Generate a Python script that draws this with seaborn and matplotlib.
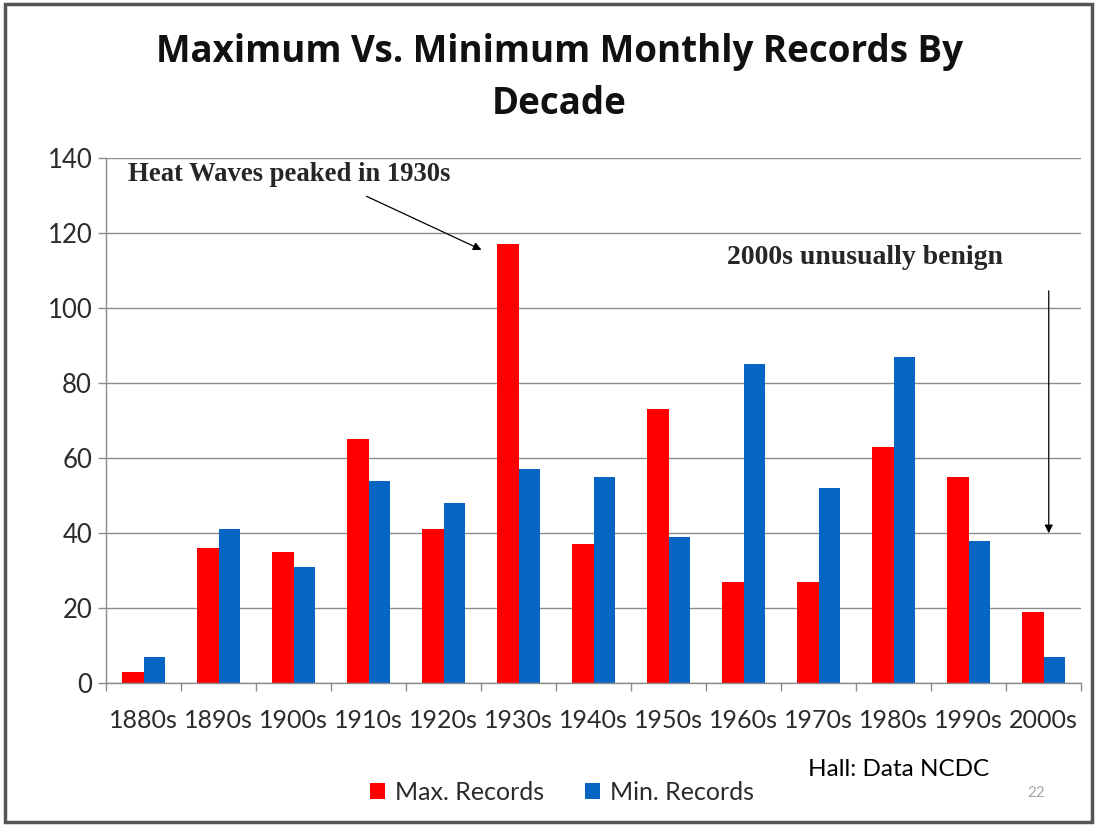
import pandas as pd
import matplotlib
matplotlib.use("Agg")
import matplotlib.pyplot as plt
import seaborn as sns
from matplotlib.patches import Rectangle

# values
decades = ["1880s", "1890s", "1900s", "1910s", "1920s", "1930s", "1940s",
           "1950s", "1960s", "1970s", "1980s", "1990s", "2000s"]
max_records = [3, 36, 35, 65, 41, 117, 37, 73, 27, 27, 63, 55, 19]
min_records = [7, 41, 31, 54, 48, 57, 55, 39, 85, 52, 87, 38, 7]
series_names = ["Max. Records", "Min. Records"]
y_ticks = [0, 20, 40, 60, 80, 100, 120, 140]

df = pd.DataFrame({
    "decade": decades * 2,
    "records": max_records + min_records,
    "series": [series_names[0]] * len(decades) + [series_names[1]] * len(decades),
})

sns.set_theme(style="white")
plt.rcParams["font.family"] = ["Lato", "DejaVu Sans"]

fig = plt.figure(figsize=(10.96, 8.26), dpi=100)
ax = fig.add_axes([106 / 1096, 143 / 826, 975 / 1096, 525 / 826])

sns.barplot(data=df, x="decade", y="records", hue="series",
            palette=["#FF0000", "#0766C4"], width=0.57, saturation=1,
            linewidth=0, ax=ax, legend=True)

# axes styling, excel-ish
ax.set_xlim(-0.5, len(decades) - 0.5)
ax.set_ylim(0, 140)
ax.set_yticks(y_ticks)
ax.set_xlabel("")
ax.set_ylabel("")
ax.yaxis.grid(True, color="#8c8c8c", lw=1)
ax.set_axisbelow(True)
for s in ["top", "right"]:
    ax.spines[s].set_visible(False)
for s in ["left", "bottom"]:
    ax.spines[s].set_color("#8c8c8c")
    ax.spines[s].set_linewidth(1)

ax.set_xticks([i - 0.5 for i in range(len(decades) + 1)], minor=True)
ax.tick_params(axis="x", which="minor", length=6, color="#8c8c8c", width=1, bottom=True)
ax.tick_params(axis="x", which="major", length=0, pad=19, labelsize=18, labelcolor="#2b2b2b")
ax.tick_params(axis="y", which="major", length=6, color="#8c8c8c", width=1, left=True,
               pad=4, labelsize=18.5, labelcolor="#2b2b2b")

# legend moved to figure bottom
handles, labels = ax.get_legend_handles_labels()
ax.get_legend().remove()
fig.legend(handles, labels, loc="center", bbox_to_anchor=(562 / 1096, 1 - 792 / 826),
           ncol=2, frameon=False, fontsize=18, handlelength=0.6, handleheight=0.6,
           handletextpad=0.4, columnspacing=1.6, labelcolor="#2b2b2b")

# title
fig.text(559 / 1096, 1 - 78 / 826, "Maximum Vs. Minimum Monthly Records By\nDecade",
         ha="center", va="center", fontsize=26.5, fontweight="bold",
         family=["Open Sans", "DejaVu Sans"], linespacing=1.5, color="#111111")

# annotations
serif = ["Liberation Serif", "DejaVu Serif"]
ax.text(-0.21, 135.5, "Heat Waves peaked in 1930s", ha="left", va="center",
        fontsize=19.2, fontweight="bold", family=serif)
ax.annotate("", xy=(4.54, 115.2), xytext=(2.94, 130.1),
            arrowprops=dict(arrowstyle="-|>", color="black", lw=0.9, mutation_scale=12))
ax.text(7.78, 113.6, "2000s unusually benign", ha="left", va="center",
        fontsize=20, fontweight="bold", family=serif)
ax.annotate("", xy=(12.07, 39.2), xytext=(12.07, 105.3),
            arrowprops=dict(arrowstyle="-|>", color="black", lw=0.9, mutation_scale=12))

fig.text(808 / 1096, 1 - 770 / 826, "Hall: Data NCDC", ha="left", va="center",
         fontsize=17.5, color="black")
fig.text(1036 / 1096, 1 - 793 / 826, "22", ha="center", va="center",
         fontsize=11, color="#a6a6a6")

# slide frame
fig.patches.append(Rectangle((5 / 1096, 4 / 826), 1087 / 1096, 818 / 826,
                             transform=fig.transFigure, fill=False,
                             edgecolor="#555555", lw=2.5))

fig.savefig("out.png", dpi=100)
